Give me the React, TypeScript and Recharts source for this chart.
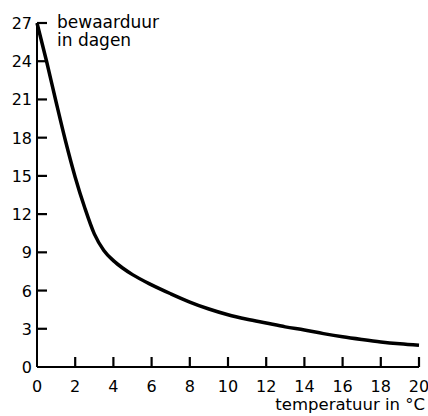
import { LineChart, Line, XAxis, YAxis } from "recharts";

// temperatuur (°C) en bewaarduur (dagen)
const temps = [0, 0.5, 1, 1.5, 2, 2.5, 3, 3.5, 4, 4.5, 5, 6, 7, 8, 9, 10, 11, 12, 13, 14, 15, 16, 17, 18, 19, 20];
const days = [27, 24.0, 20.8, 17.7, 14.9, 12.5, 10.45, 9.15, 8.35, 7.75, 7.25, 6.45, 5.75, 5.1, 4.55, 4.1, 3.75, 3.45, 3.15, 2.9, 2.62, 2.37, 2.16, 1.97, 1.82, 1.7];

const xTicks = [0, 2, 4, 6, 8, 10, 12, 14, 16, 18, 20];
const yTicks = [0, 3, 6, 9, 12, 15, 18, 21, 24, 27];

const data = temps.map((t, i) => ({ t, d: days[i] }));

const FONT = "'DejaVu Sans', sans-serif";

const YTick = (props: any) => {
  const { x, y, payload } = props;
  return (
    <g>
      {payload.value !== 0 && (
        <line x1={x + 5} x2={x + 15} y1={y} y2={y} stroke="#000" strokeWidth={2.2} />
      )}
      <text x={x} y={y} dy={6} textAnchor="end" fontFamily={FONT} fontSize={16} fill="#000">
        {payload.value}
      </text>
    </g>
  );
};

const XTick = (props: any) => {
  const { x, y, payload } = props;
  return (
    <g>
      {payload.value !== 0 && (
        <line x1={x} x2={x} y1={y} y2={y - 10} stroke="#000" strokeWidth={2.2} />
      )}
      <text x={x} y={y + 25} textAnchor="middle" fontFamily={FONT} fontSize={16} fill="#000">
        {payload.value}
      </text>
    </g>
  );
};

export default function App() {
  return (
    <div style={{ position: "absolute", left: 0, top: 0, width: 428, height: 416, background: "#fff" }}>
      <LineChart width={428} height={416} data={data} margin={{ top: 23, right: 9, bottom: 0, left: 0 }}>
        <XAxis
          dataKey="t"
          type="number"
          domain={[0, 20]}
          ticks={xTicks}
          height={49}
          tickSize={0}
          tickMargin={0}
          tickLine={false}
          axisLine={{ stroke: "#000", strokeWidth: 2 }}
          tick={<XTick />}
          label={{
            content: () => (
              <text x={425} y={410} textAnchor="end" fontFamily={FONT} fontSize={16.5} fill="#000">
                temperatuur in °C
              </text>
            ),
          }}
        />
        <YAxis
          type="number"
          domain={[0, 27]}
          ticks={yTicks}
          width={37}
          tickSize={0}
          tickMargin={5}
          tickLine={false}
          axisLine={{ stroke: "#000", strokeWidth: 2 }}
          tick={<YTick />}
          label={{
            content: () => (
              <g>
                <text x={57} y={28} fontFamily={FONT} fontSize={17} fill="#000">bewaarduur</text>
                <text x={57} y={46} fontFamily={FONT} fontSize={17} fill="#000">in dagen</text>
              </g>
            ),
          }}
        />
        <Line
          dataKey="d"
          type="monotone"
          stroke="#000"
          strokeWidth={3.5}
          dot={false}
          isAnimationActive={false}
        />
      </LineChart>
    </div>
  );
}
